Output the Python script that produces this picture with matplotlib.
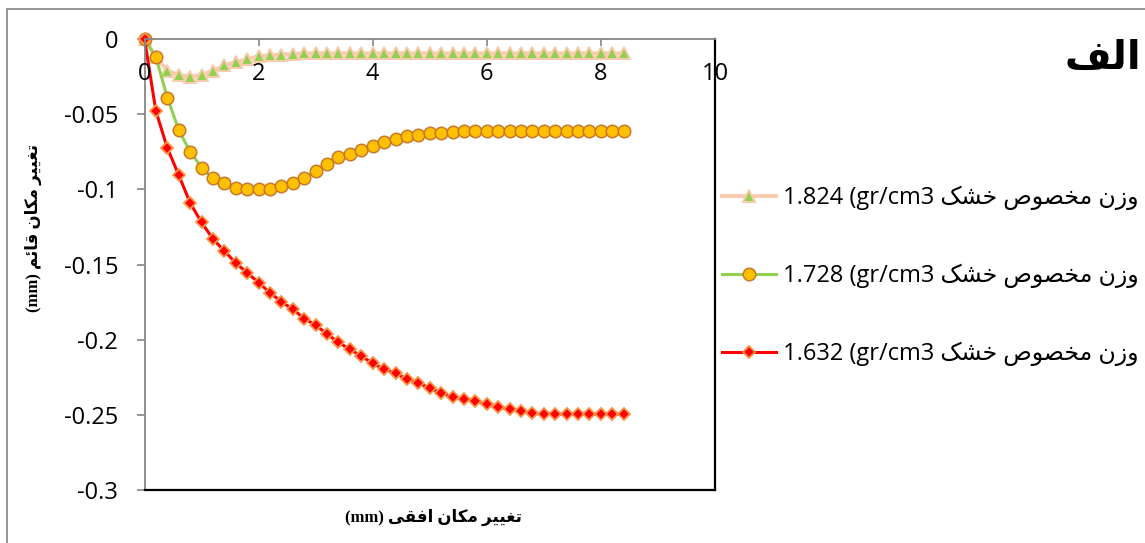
import matplotlib
matplotlib.use("Agg")
import matplotlib.pyplot as plt
from matplotlib.patches import Rectangle
from matplotlib.transforms import blended_transform_factory
import numpy as np

# horizontal displacement (mm), one reading every 0.2 mm
x_mm = [round(0.2 * i, 1) for i in range(43)]

# vertical displacement (mm) for each dry unit weight
v_1824 = [0, -0.012, -0.021, -0.024, -0.025, -0.024, -0.021, -0.0175, -0.0153, -0.0135,
          -0.0113, -0.0109, -0.0104, -0.0098, -0.0096, -0.0095, -0.0095, -0.0095, -0.0095,
          -0.0095, -0.0095, -0.0095, -0.0095, -0.0095, -0.0095, -0.0095, -0.0095, -0.0095,
          -0.0095, -0.0095, -0.0095, -0.0095, -0.0095, -0.0095, -0.0095, -0.0095, -0.0095,
          -0.0095, -0.0095, -0.0095, -0.0095, -0.0095, -0.0095]
v_1728 = [0, -0.012, -0.039, -0.0605, -0.075, -0.0855, -0.0927, -0.096, -0.0994, -0.100,
          -0.100, -0.100, -0.098, -0.096, -0.0927, -0.088, -0.083, -0.0787, -0.0765, -0.074,
          -0.0712, -0.0685, -0.0665, -0.0645, -0.0639, -0.0627, -0.0623, -0.062, -0.0615,
          -0.0615, -0.0615, -0.0615, -0.0615, -0.0615, -0.0615, -0.0615, -0.0615, -0.0615,
          -0.0615, -0.0615, -0.0615, -0.0615, -0.0615]
v_1632 = [0, -0.048, -0.0725, -0.0905, -0.109, -0.122, -0.133, -0.141, -0.149, -0.1555,
          -0.162, -0.1688, -0.1748, -0.1797, -0.186, -0.1903, -0.1963, -0.2018, -0.2065,
          -0.2109, -0.2158, -0.2196, -0.2224, -0.2263, -0.2287, -0.2324, -0.2353, -0.2384,
          -0.2397, -0.2409, -0.2431, -0.2451, -0.2464, -0.2475, -0.249, -0.2495, -0.2495,
          -0.2495, -0.2495, -0.2495, -0.2495, -0.2495, -0.2495]

densities = ["1.824", "1.728", "1.632"]
x_ticks = [0, 2, 4, 6, 8, 10]
y_ticks = [0, -0.05, -0.1, -0.15, -0.2, -0.25, -0.3]
y_tick_labels = ["0", "-0.05", "-0.1", "-0.15", "-0.2", "-0.25", "-0.3"]

legend_word = "وزن مخصوص خشک"
xlabel_fa = "تغییر مکان افقی"
ylabel_fa = "تغییر مکان قائم"
panel_fa = "الف"

# contextual forms: isolated, final, initial, medial (None = does not join forward)
FORMS = {
    "و": ("\uFEED", "\uFEEE", None, None),
    "ز": ("\uFEAF", "\uFEB0", None, None),
    "ر": ("\uFEAD", "\uFEAE", None, None),
    "ا": ("\uFE8D", "\uFE8E", None, None),
    "ن": ("\uFEE5", "\uFEE6", "\uFEE7", "\uFEE8"),
    "م": ("\uFEE1", "\uFEE2", "\uFEE3", "\uFEE4"),
    "خ": ("\uFEA5", "\uFEA6", "\uFEA7", "\uFEA8"),
    "ص": ("\uFEB9", "\uFEBA", "\uFEBB", "\uFEBC"),
    "ش": ("\uFEB5", "\uFEB6", "\uFEB7", "\uFEB8"),
    "ک": ("\uFB8E", "\uFB8F", "\uFB90", "\uFB91"),
    "ت": ("\uFE95", "\uFE96", "\uFE97", "\uFE98"),
    "غ": ("\uFECD", "\uFECE", "\uFECF", "\uFED0"),
    "ی": ("\uFBFC", "\uFBFD", "\uFBFE", "\uFBFF"),
    "ف": ("\uFED1", "\uFED2", "\uFED3", "\uFED4"),
    "ق": ("\uFED5", "\uFED6", "\uFED7", "\uFED8"),
    "ل": ("\uFEDD", "\uFEDE", "\uFEDF", "\uFEE0"),
    "ئ": ("\uFE89", "\uFE8A", "\uFE8B", "\uFE8C"),
}


def visual(text):
    """Shape Persian letters and put them in left-to-right display order."""
    out = []
    for i, ch in enumerate(text):
        if ch not in FORMS:
            out.append(ch)
            continue
        prev = text[i - 1] if i > 0 else ""
        nxt = text[i + 1] if i + 1 < len(text) else ""
        joins_prev = prev in FORMS and FORMS[prev][2] is not None
        joins_next = nxt in FORMS and FORMS[ch][2] is not None
        iso, fin, ini, med = FORMS[ch]
        if joins_prev and joins_next:
            out.append(med)
        elif joins_prev:
            out.append(fin)
        elif joins_next:
            out.append(ini)
        else:
            out.append(iso)
    return "".join(reversed(out))


num_font = ["Open Sans", "DejaVu Sans"]
plt.rcParams["font.family"] = num_font
FS = 17

fig = plt.figure(figsize=(11.45, 5.43), dpi=100)
ax = fig.add_axes([144.5 / 1145, 53 / 543, 570.5 / 1145, 451 / 543])

styles = [
    dict(color="#F8CBAD", lw=2.8, marker="^", ms=8.8, mfc="#92D050", mec="#F8CBAD", mew=1.4),
    dict(color="#92D050", lw=2.2, marker="o", ms=9.0, mfc="#FFC000", mec="#C8782A", mew=1.1),
    dict(color="#FF0000", lw=2.2, marker="D", ms=6.6, mfc="#FF0000", mec="#F79646", mew=1.3),
]
series = [v_1824, v_1728, v_1632]
for vals, dens, st in zip(series, densities, styles):
    ax.plot(x_mm, vals, label=f"{dens} (gr/cm3 " + visual(legend_word),
            clip_on=False, **st)

ax.set_xlim(0, 10)
ax.set_ylim(-0.3, 0)

for side in ("left", "top"):
    ax.spines[side].set_color("#868686")
    ax.spines[side].set_linewidth(1.3)
for side in ("right", "bottom"):
    ax.spines[side].set_color("black")
    ax.spines[side].set_linewidth(1.6)

ax.set_yticks(y_ticks)
ax.set_yticklabels(y_tick_labels)
ax.tick_params(axis="y", direction="out", length=6, width=1.2, color="#868686",
               labelsize=FS, pad=13)

ax.xaxis.set_ticks_position("top")
ax.set_xticks(x_ticks)
ax.tick_params(axis="x", direction="in", length=5, width=1.2, color="#868686",
               labeltop=False, labelbottom=False)
trans = blended_transform_factory(ax.transData, ax.transAxes)
for t in x_ticks:
    ax.text(t, 1 - 35 / 451, str(t), transform=trans, ha="center", va="center",
            fontsize=FS)

lab_font = ["Liberation Serif", "DejaVu Sans"]
fig.text(433 / 1145, 1 - 517 / 543, "(mm) " + visual(xlabel_fa), ha="center",
         va="center", fontsize=12, fontweight="bold", family=lab_font)
fig.text(33 / 1145, 1 - 228 / 543, "(mm) " + visual(ylabel_fa), ha="center",
         va="center", rotation=90, fontsize=12, fontweight="bold", family=lab_font)
fig.text(1103 / 1145, 1 - 58 / 543, visual(panel_fa), ha="center", va="center",
         fontsize=29, fontweight="bold", family=["DejaVu Sans"])

leg = ax.legend(loc="center left", bbox_to_anchor=(722 / 1145, 1 - 276 / 543),
                bbox_transform=fig.transFigure, frameon=False, fontsize=FS,
                handlelength=2.3, handletextpad=0.3, labelspacing=2.28,
                borderpad=0, borderaxespad=0)

# outer chart frame
fig.patches.append(Rectangle((7 / 1145, -0.05), 1.2, 1 - 9 / 543 + 0.05,
                             transform=fig.transFigure, fill=False,
                             edgecolor="#868686", linewidth=1.2))

fig.savefig("out.png", dpi=100)
